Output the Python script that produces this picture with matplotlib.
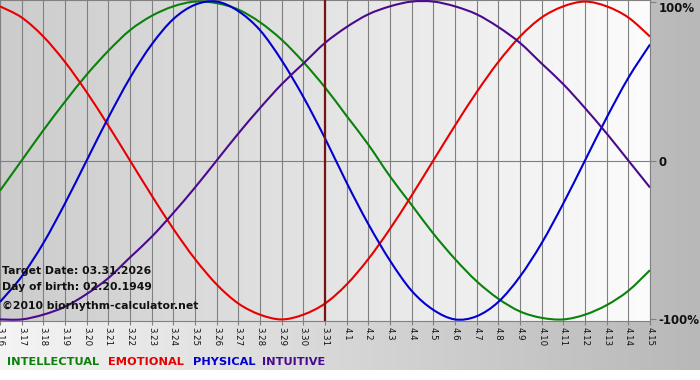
import numpy as np
import matplotlib
matplotlib.use("Agg")
import matplotlib.pyplot as plt
from matplotlib.path import Path
from matplotlib.patches import PathPatch

# days shown on the x axis (month.day)
dates = ["3.16", "3.17", "3.18", "3.19", "3.20", "3.21", "3.22", "3.23", "3.24", "3.25",
         "3.26", "3.27", "3.28", "3.29", "3.30", "3.31", "4.1", "4.2", "4.3", "4.4",
         "4.5", "4.6", "4.7", "4.8", "4.9", "4.10", "4.11", "4.12", "4.13", "4.14", "4.15"]
target_idx = 15  # 3.31

# cycle values per day (-1 .. 1)
intellectual = [-0.19, 0.00, 0.19, 0.37, 0.54, 0.69, 0.82, 0.91, 0.97, 1.00, 0.99,
                0.95, 0.87, 0.76, 0.62, 0.46, 0.28, 0.10, -0.10, -0.28, -0.46,
                -0.62, -0.76, -0.87, -0.95, -0.99, -1.00, -0.97, -0.91, -0.82, -0.69]
emotional = [0.97, 0.90, 0.78, 0.62, 0.43, 0.22, 0.00, -0.22, -0.43, -0.62, -0.78,
             -0.90, -0.97, -1.00, -0.97, -0.90, -0.78, -0.62, -0.43, -0.22, 0.00,
             0.22, 0.43, 0.62, 0.78, 0.90, 0.97, 1.00, 0.97, 0.90, 0.78]
physical = [-0.89, -0.73, -0.52, -0.27, 0.00, 0.27, 0.52, 0.73, 0.89, 0.98, 1.00,
            0.94, 0.82, 0.63, 0.40, 0.14, -0.14, -0.40, -0.63, -0.82, -0.94,
            -1.00, -0.98, -0.89, -0.73, -0.52, -0.27, 0.00, 0.27, 0.52, 0.73]
intuitive = [-1.00, -1.00, -0.97, -0.92, -0.84, -0.74, -0.61, -0.48, -0.33, -0.17, 0.00,
             0.17, 0.33, 0.48, 0.61, 0.74, 0.84, 0.92, 0.97, 1.00, 1.00,
             0.97, 0.92, 0.84, 0.74, 0.61, 0.48, 0.33, 0.17, 0.00, -0.17]

series_names = ["INTELLECTUAL", "EMOTIONAL", "PHYSICAL", "INTUITIVE"]
series_colors = ["#0a820a", "#e80000", "#0000d0", "#4b0a8c"]
series_values = [intellectual, emotional, physical, intuitive]

info_lines = ["Target Date: 03.31.2026", "Day of birth: 02.20.1949",
              "\u00a92010 biorhythm-calculator.net"]


def smooth_path(xs, ys):
    # Catmull-Rom through the points, drawn as cubic Bezier segments
    pts = np.column_stack([xs, ys]).astype(float)
    verts = [pts[0]]
    codes = [Path.MOVETO]
    for i in range(len(pts) - 1):
        p0 = pts[i - 1] if i > 0 else pts[i]
        p1, p2 = pts[i], pts[i + 1]
        p3 = pts[i + 2] if i + 2 < len(pts) else pts[i + 1]
        verts += [p1 + (p2 - p0) / 6, p2 - (p3 - p1) / 6, p2]
        codes += [Path.CURVE4] * 3
    return Path(verts, codes)


W, H = 700, 380
fig = plt.figure(figsize=(W / 100, H / 100), dpi=100)
fig.patch.set_facecolor("white")

# page background: light on the left, grey on the right
bg = fig.add_axes([0, 10 / H, 1, 370 / H], zorder=-5)
grad = np.linspace(0, 1, 256)[None, :]
bg.imshow(grad, aspect="auto", cmap=matplotlib.colors.LinearSegmentedColormap.from_list(
    "pg", ["#f4f4f4", "#b8b8b8"]), extent=[0, 1, 0, 1])
bg.axis("off")

ax = fig.add_axes([0, 1 - 321 / H, 650 / W, 321 / H])
n = len(dates)
x = np.arange(n)
ax.set_xlim(0, n - 1)
ax.set_ylim(-1.01, 1.01)

# plot area: darker on the left, almost white on the right
ax.imshow(grad, aspect="auto", extent=[0, n - 1, -1.01, 1.01], zorder=0,
          cmap=matplotlib.colors.LinearSegmentedColormap.from_list("pa", ["#cccccc", "#fcfcfc"]))

for xi in x:
    ax.axvline(xi, color="#808080", lw=0.8, zorder=1)
ax.axhline(0, color="#808080", lw=0.8, zorder=1)

for vals, col in zip(series_values, series_colors):
    ax.add_patch(PathPatch(smooth_path(x, vals), facecolor="none", edgecolor=col,
                           lw=1.5, zorder=3))

ax.axvline(target_idx, color="#7a1212", lw=1.6, zorder=4)

for s in ax.spines.values():
    s.set_color("#808080")
    s.set_linewidth(0.8)

ax.set_xticks(x)
ax.set_xticklabels(dates, rotation=-90, fontsize=6.2, color="#111111")
ax.tick_params(axis="x", length=3, color="#808080", pad=1)
ax.yaxis.tick_right()
ax.set_yticks([-1, 0, 1])
ax.set_yticklabels(["-100%", "0", "100%"], fontsize=8.5, fontweight="bold", color="#111111")
ax.tick_params(axis="y", length=4, color="#808080", pad=2)
ax.get_yticklabels()[2].set_va("top")

for i, line in enumerate(info_lines):
    fig.text(2 / W, 1 - (271 + 16 * i + (3 if i == 2 else 0)) / H, line, fontsize=7.8,
             fontweight="bold", color="#111111", va="center", ha="left")

legend_x = [7, 108, 193, 262]
for name, col, lx in zip(series_names, series_colors, legend_x):
    fig.text(lx / W, 1 - 362 / H, name, fontsize=8.2, fontweight="bold",
             color=col, va="center", ha="left")

fig.savefig("out.png", dpi=100)
